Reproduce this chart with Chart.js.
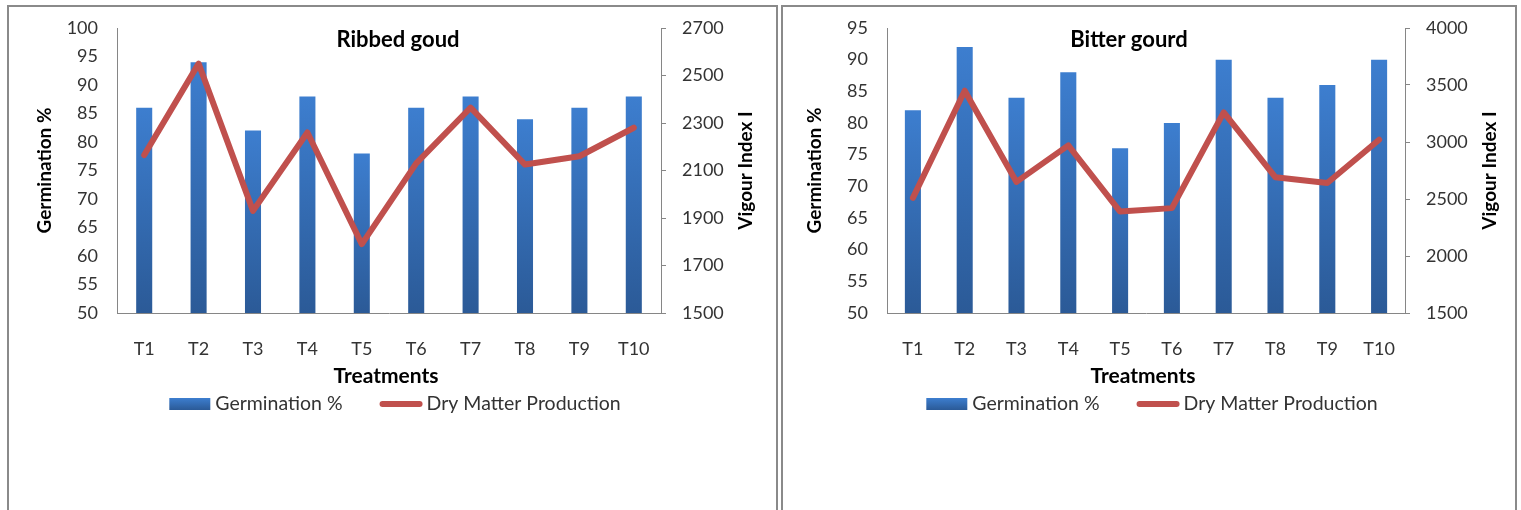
<!DOCTYPE html>
<html>
<head>
<meta charset="utf-8">
<title>Germination and vigour index</title>
<script src="https://cdn.jsdelivr.net/npm/chart.js@4.4.1/dist/chart.umd.min.js"></script>
<style>
  html, body { margin: 0; padding: 0; background: #fff; width: 1521px; height: 510px; overflow: hidden; }
  .panel { position: absolute; border: 2px solid #8a8a8a; box-sizing: border-box; }
  .box { position: absolute; }
</style>
</head>
<body>
<div class="panel" style="left:7px; top:5px; width:771px; height:540px;"></div>
<div class="panel" style="left:781px; top:5px; width:736px; height:540px;"></div>
<div class="box" style="left:9px; top:7px; width:767px; height:503px;"><canvas id="ribbed"></canvas></div>
<div class="box" style="left:783px; top:7px; width:732px; height:503px;"><canvas id="bitter"></canvas></div>

<script>
// Treatments on the category axis
const treatments = ['T1', 'T2', 'T3', 'T4', 'T5', 'T6', 'T7', 'T8', 'T9', 'T10'];

// Ribbed gourd
const ribbedGermination = [86, 94, 82, 88, 78, 86, 88, 84, 86, 88];
const ribbedDryMatter   = [2165, 2550, 1930, 2260, 1790, 2130, 2365, 2125, 2160, 2280];
const ribbedGermTicks   = [50, 55, 60, 65, 70, 75, 80, 85, 90, 95, 100];
const ribbedVigourTicks = [1500, 1700, 1900, 2100, 2300, 2500, 2700];

// Bitter gourd
const bitterGermination = [82, 92, 84, 88, 76, 80, 90, 84, 86, 90];
const bitterDryMatter   = [2510, 3450, 2650, 2970, 2390, 2420, 3260, 2690, 2640, 3020];
const bitterGermTicks   = [50, 55, 60, 65, 70, 75, 80, 85, 90, 95];
const bitterVigourTicks = [1500, 2000, 2500, 3000, 3500, 4000];

const FONT = 'Lato, "Noto Sans", sans-serif';
const AXIS = '#868686';
const TEXT = '#333333';
const BAR_TOP = '#3d7ecf';
const BAR_BOTTOM = '#2b5a97';
const LINE = '#c0504d';
const LINE_WIDTH = 6;

// Per-bar vertical gradient, lighter at the top of each bar
function barFill(ctx) {
  const chart = ctx.chart;
  const area = chart.chartArea;
  if (!area || !ctx.parsed) return BAR_TOP;
  const top = chart.scales.y.getPixelForValue(ctx.parsed.y);
  const g = chart.ctx.createLinearGradient(0, top, 0, area.bottom);
  g.addColorStop(0, BAR_TOP);
  g.addColorStop(1, BAR_BOTTOM);
  return g;
}

// Titles, axis titles and the legend row drawn around the plot area
const decorations = {
  id: 'decorations',
  afterDraw(chart, args, o) {
    const c = chart.ctx;
    const a = chart.chartArea;
    const mid = (a.left + a.right) / 2;
    c.save();
    c.fillStyle = '#000';
    c.textBaseline = 'middle';
    c.textAlign = 'center';

    c.font = 'bold 22px ' + FONT;
    c.fillText(o.title, mid + o.titleDx, a.top + 12);

    c.font = 'bold 21px ' + FONT;
    c.fillText(o.xTitle, mid + o.xTitleDx, a.bottom + 63);

    c.font = 'bold 19px ' + FONT;
    c.save();
    c.translate(a.left - 72, (a.top + a.bottom) / 2);
    c.rotate(-Math.PI / 2);
    c.fillText(o.yTitle, 0, 0);
    c.restore();

    c.save();
    c.translate(a.right + 85, (a.top + a.bottom) / 2);
    c.rotate(-Math.PI / 2);
    c.fillText(o.y1Title, 0, 0);
    c.restore();

    // legend
    const ds = chart.data.datasets;
    c.font = '19.5px ' + FONT;
    c.fillStyle = TEXT;
    c.textAlign = 'left';
    const w1 = c.measureText(ds[0].label).width;
    const w2 = c.measureText(ds[1].label).width;
    const total = 41 + 5 + w1 + 37 + 43 + 4 + w2;
    let x = mid + o.legendDx - total / 2;
    const y = a.bottom + 91;
    const g = c.createLinearGradient(0, y - 6, 0, y + 6);
    g.addColorStop(0, BAR_TOP);
    g.addColorStop(1, BAR_BOTTOM);
    c.fillStyle = g;
    c.fillRect(x, y - 6, 41, 12);
    x += 46;
    c.fillStyle = TEXT;
    c.fillText(ds[0].label, x, y);
    x += w1 + 37;
    c.strokeStyle = LINE;
    c.lineWidth = LINE_WIDTH;
    c.lineCap = 'round';
    c.beginPath();
    c.moveTo(x + 3, y);
    c.lineTo(x + 40, y);
    c.stroke();
    x += 47;
    c.fillText(ds[1].label, x, y);
    c.restore();
  }
};

function makeChart(id, germ, dry, germTicks, vigTicks, geo, text) {
  const tickFont = { family: FONT, size: 18 };
  const width = document.getElementById(id).parentNode.clientWidth;
  return new Chart(document.getElementById(id), {
    type: 'bar',
    data: {
      labels: treatments,
      datasets: [
        {
          type: 'bar',
          label: 'Germination %',
          data: germ,
          yAxisID: 'y',
          order: 1,
          backgroundColor: barFill,
          borderWidth: 0,
          categoryPercentage: 1,
          barPercentage: geo.barPct
        },
        {
          type: 'line',
          label: 'Dry Matter Production',
          data: dry,
          yAxisID: 'y1',
          order: 0,
          borderColor: LINE,
          borderWidth: LINE_WIDTH,
          tension: 0,
          pointRadius: 0,
          borderCapStyle: 'round',
          borderJoinStyle: 'round',
          fill: false
        }
      ]
    },
    options: {
      responsive: true,
      maintainAspectRatio: false,
      animation: false,
      events: [],
      layout: { padding: { top: 21, left: 0, right: 0, bottom: 0 } },
      plugins: {
        legend: { display: false },
        title: { display: false },
        tooltip: { enabled: false },
        decorations: text
      },
      scales: {
        x: {
          grid: { display: false, drawTicks: false },
          border: { display: true, color: AXIS, width: 1 },
          ticks: { font: tickFont, color: TEXT, padding: 25 },
          afterFit(s) { s.height = 197; s.paddingLeft = 0; s.paddingRight = 0; }
        },
        y: {
          position: 'left',
          min: germTicks[0],
          max: germTicks[germTicks.length - 1],
          afterBuildTicks(s) { s.ticks = germTicks.map(v => ({ value: v })); },
          grid: { display: false, drawTicks: false },
          border: { display: true, color: AXIS, width: 1 },
          ticks: { font: tickFont, color: TEXT, padding: 19, callback: v => String(v) },
          afterFit(s) { s.width = geo.left; s.paddingTop = 0; s.paddingBottom = 0; }
        },
        y1: {
          position: 'right',
          min: vigTicks[0],
          max: vigTicks[vigTicks.length - 1],
          afterBuildTicks(s) { s.ticks = vigTicks.map(v => ({ value: v })); },
          grid: { display: true, drawOnChartArea: false, drawTicks: true, tickLength: 5, color: AXIS },
          border: { display: true, color: AXIS, width: 1 },
          ticks: { font: tickFont, color: TEXT, padding: 16, callback: v => String(v) },
          afterFit(s) { s.width = width - geo.right; s.paddingTop = 0; s.paddingBottom = 0; }
        }
      }
    },
    plugins: [decorations]
  });
}

Chart.defaults.font.family = FONT;

makeChart('ribbed', ribbedGermination, ribbedDryMatter, ribbedGermTicks, ribbedVigourTicks,
  { left: 108, right: 652, barPct: 0.295 },
  { title: 'Ribbed goud', titleDx: 9, xTitle: 'Treatments', xTitleDx: -3,
    yTitle: 'Germination %', y1Title: 'Vigour Index I', legendDx: 6 });

makeChart('bitter', bitterGermination, bitterDryMatter, bitterGermTicks, bitterVigourTicks,
  { left: 104, right: 622, barPct: 0.31 },
  { title: 'Bitter gourd', titleDx: -17, xTitle: 'Treatments', xTitleDx: -3,
    yTitle: 'Germination %', y1Title: 'Vigour Index I', legendDx: 6 });
</script>
</body>
</html>
